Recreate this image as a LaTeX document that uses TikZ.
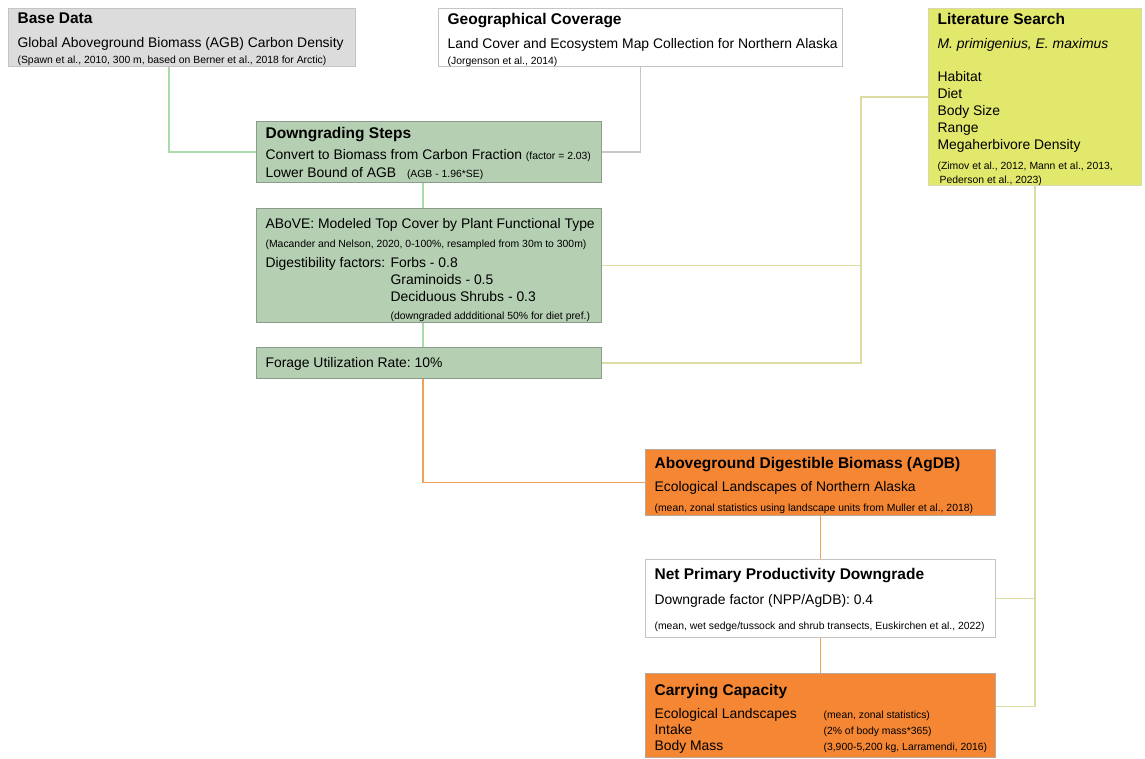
\documentclass[tikz,border=0pt]{standalone}
\usepackage{fontspec}
\setmainfont{Liberation Sans}
\usepackage{tikz}
\usetikzlibrary{calc}
\frenchspacing

\definecolor{basegray}{HTML}{DCDCDC}
\definecolor{edgegray}{HTML}{C4C4C4}
\definecolor{litfill}{HTML}{E2E86C}
\definecolor{litedge}{HTML}{D8D8B0}
\definecolor{greenfill}{HTML}{B5CFB2}
\definecolor{greenedge}{HTML}{8C9C8C}
\definecolor{orangefill}{HTML}{F58634}
\definecolor{orangeedge}{HTML}{B8A898}
\definecolor{greenline}{HTML}{A9DCAA}
\definecolor{grayline}{HTML}{C6C6C6}
\definecolor{litline}{HTML}{DCDCA2}
\definecolor{orangeline}{HTML}{F5A05A}

\newcommand{\ttl}{\fontsize{15.5}{17}\selectfont\bfseries}
\newcommand{\bdy}{\fontsize{13.9}{17}\selectfont}
\newcommand{\sml}{\fontsize{10.4}{17}\selectfont}
% #1 height, #2 text width, #3 space above first line, #4 lines
\newcommand{\boxtxt}[4]{\parbox[c][#1pt][t]{#2pt}{\bdy\vspace*{#3pt}#4}}

\tikzset{
  flowbox/.style={rectangle, draw=edgegray, line width=1.2pt, inner xsep=9pt, inner ysep=0pt, anchor=north west},
  link/.style={line width=1.5pt}
}

\begin{document}
\begin{tikzpicture}[x=1pt, y=-1pt]
			%%%%% START %%%%%
			\useasboundingbox (0,0) rectangle (1145,758);
			
			\node[flowbox, fill=basegray] (base) at (8,8) {\boxtxt{58}{329}{4.5}{%
				{\ttl Base Data}\\[7pt]
				Global Aboveground Biomass (AGB) Carbon Density\\[-1pt]
				\mbox{\sml (Spawn et al., 2010, 300 m, based on Berner et al., 2018 for Arctic)}}};
			
			\node[flowbox, fill=white] (geo) at (438,8) {\boxtxt{58}{386}{4.5}{%
				{\ttl Geographical Coverage}\\[7pt]
				\mbox{Land Cover and Ecosystem Map Collection for Northern Alaska}\\[-1pt]
				{\sml (Jorgenson et al., 2014)}}};
			
			\node[flowbox, fill=litfill, draw=litedge] (lit) at (928,8) {\boxtxt{177}{195}{4.5}{%
				{\ttl Literature Search}\\[7pt]
				\textit{M. primigenius, E. maximus}\\[16pt]
				Habitat\\
				Diet\\
				Body Size\\
				Range\\
				Megaherbivore Density\\[3.5pt]
				\mbox{\sml (Zimov et al., 2012, Mann et al., 2013,}\\[-3pt]
				{\sml \hspace*{2pt}Pederson et al., 2023)}}};
			
			\node[flowbox, fill=greenfill, draw=greenedge] (down) at (256,121) {\boxtxt{61}{327}{5.5}{%
				{\ttl Downgrading Steps}\\[4pt]
				\mbox{Convert to Biomass from Carbon Fraction {\sml (factor = 2.03)}}\\[1pt]
				Lower Bound of AGB \enspace{\sml (AGB - 1.96*SE)}}};
			
			\node[flowbox, fill=greenfill, draw=greenedge] (above) at (256,208) {\boxtxt{114}{327}{10}{%
				\mbox{ABoVE: Modeled Top Cover by Plant Functional Type}\\[1.5pt]
				\mbox{\sml (Macander and Nelson, 2020, 0-100\%, resampled from 30m to 300m)}\\[3.5pt]
				\makebox[125pt][l]{Digestibility factors:}Forbs - 0.8\\
				\hspace*{125pt}Graminoids - 0.5\\
				\hspace*{125pt}Deciduous Shrubs - 0.3\\[0.5pt]
				\hspace*{125pt}\mbox{\sml (downgraded addditional 50\% for diet pref.)}}};
			
			\node[flowbox, fill=greenfill, draw=greenedge] (forage) at (256,347) {\boxtxt{31}{327}{10}{%
				Forage Utilization Rate: 10\%}};
			
			\node[flowbox, fill=orangefill, draw=orangeedge] (agdb) at (645,449) {\boxtxt{66}{332}{7.5}{%
				{\ttl Aboveground Digestible Biomass (AgDB)}\\[6pt]
				Ecological Landscapes of Northern Alaska\\[3.5pt]
				\mbox{\sml (mean, zonal statistics using landscape units from Muller et al., 2018)}}};
			
			\node[flowbox, fill=white] (npp) at (645,559) {\boxtxt{78}{332}{8.5}{%
				{\ttl Net Primary Productivity Downgrade}\\[8pt]
				Downgrade factor (NPP/AgDB): 0.4\\[8.5pt]
				\mbox{\sml (mean, wet sedge/tussock and shrub transects, Euskirchen et al., 2022)}}};
			
			\node[flowbox, fill=orangefill, draw=orangeedge] (cc) at (645,673) {\boxtxt{84}{332}{10.5}{%
				{\ttl Carrying Capacity}\\[6pt]
				\makebox[169pt][l]{Ecological Landscapes}{\sml (mean, zonal statistics)}\\[-1pt]
				\makebox[169pt][l]{Intake}{\sml (2\% of body mass*365)}\\[-1pt]
				\makebox[169pt][l]{Body Mass}\mbox{\sml (3,900-5,200 kg, Larramendi, 2016)}}};
			
			% links into the downgrading chain
			\draw[link, greenline] ($(base.south west)+(161,0)$) |- (down.west);
			\draw[link, grayline] (geo.south) |- (down.east);
			\draw[link, greenline] ($(down.south)+(-6,0)$) -- ($(above.north)+(-6,0)$);
			\draw[link, greenline] ($(above.south)+(-6,0)$) -- ($(forage.north)+(-6,0)$);
			\draw[link, orangeline] ($(forage.south)+(-6,0)$) |- (agdb.west);
			\draw[link, orangeline] (agdb.south) -- (npp.north);
			\draw[link, orangeline] (npp.south) -- (cc.north);
			
			% literature search feeds
			\coordinate (litj) at (861,0);
			\draw[link, litline] (lit.west) -| (litj |- forage.east) -- (forage.east);
			\draw[link, litline] (litj |- above.east) -- (above.east);
			\draw[link, litline] (lit.south) |- ($(cc.east)+(0,-9)$);
			\draw[link, litline] (lit.south |- npp.east) -- (npp.east);
			
			%%%%% END %%%%%
		\end{tikzpicture}
\end{document}
